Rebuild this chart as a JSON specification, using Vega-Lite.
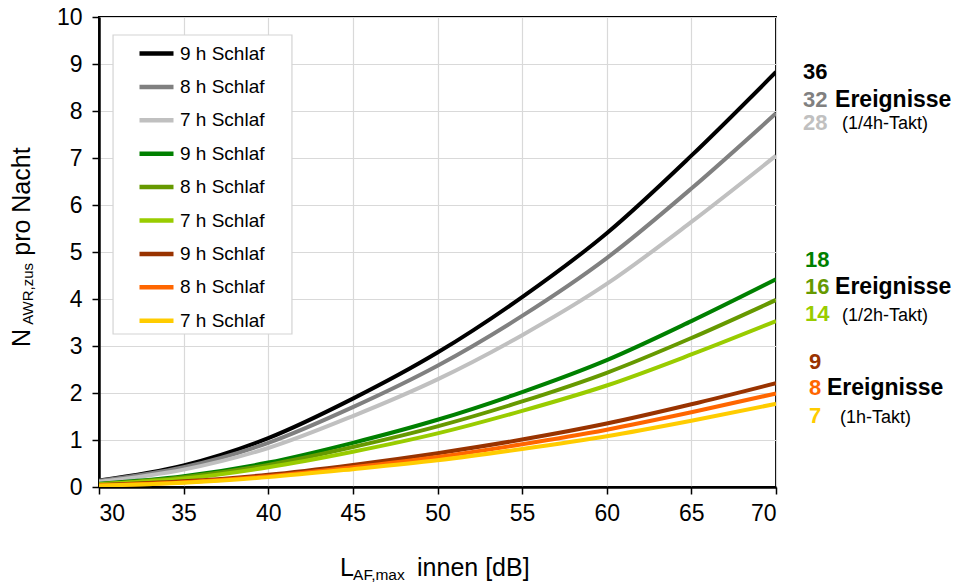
{
  "$schema": "https://vega.github.io/schema/vega-lite/v6.json",
  "width": 677,
  "height": 470,
  "autosize": "none",
  "padding": {"left": 99, "top": 17, "right": 178, "bottom": 99},
  "background": "white",
  "config": {
    "font": "Liberation Sans",
    "view": {"stroke": "black", "strokeWidth": 2},
    "axis": {
      "labelFont": "Liberation Sans",
      "labelFontSize": 23,
      "labelColor": "black",
      "domainColor": "black",
      "domainWidth": 2.5,
      "tickColor": "black",
      "tickWidth": 1.5,
      "tickSize": 7,
      "gridColor": "#d9d9d9",
      "gridWidth": 1.2,
      "title": null
    },
    "legend": {
      "orient": "none",
      "legendX": 14,
      "legendY": 17,
      "title": null,
      "symbolType": "stroke",
      "symbolSize": 1156,
      "symbolStrokeWidth": 4.5,
      "symbolOffset": 24,
      "labelFont": "Liberation Sans",
      "labelFontSize": 19,
      "labelColor": "black",
      "labelOffset": 4,
      "rowPadding": 3.4,
      "padding": 0
    }
  },
  "datasets": {
    "curves": [
      {"L": 30, "N": 0.14, "s": "9 h Schlaf|36"}, {"L": 35, "N": 0.46, "s": "9 h Schlaf|36"}, {"L": 40, "N": 1.04, "s": "9 h Schlaf|36"}, {"L": 45, "N": 1.88, "s": "9 h Schlaf|36"}, {"L": 50, "N": 2.86, "s": "9 h Schlaf|36"}, {"L": 55, "N": 4.04, "s": "9 h Schlaf|36"}, {"L": 60, "N": 5.40, "s": "9 h Schlaf|36"}, {"L": 65, "N": 7.05, "s": "9 h Schlaf|36"}, {"L": 70, "N": 8.83, "s": "9 h Schlaf|36"},
      {"L": 30, "N": 0.13, "s": "8 h Schlaf|32"}, {"L": 35, "N": 0.42, "s": "8 h Schlaf|32"}, {"L": 40, "N": 0.94, "s": "8 h Schlaf|32"}, {"L": 45, "N": 1.70, "s": "8 h Schlaf|32"}, {"L": 50, "N": 2.58, "s": "8 h Schlaf|32"}, {"L": 55, "N": 3.64, "s": "8 h Schlaf|32"}, {"L": 60, "N": 4.87, "s": "8 h Schlaf|32"}, {"L": 65, "N": 6.35, "s": "8 h Schlaf|32"}, {"L": 70, "N": 7.95, "s": "8 h Schlaf|32"},
      {"L": 30, "N": 0.11, "s": "7 h Schlaf|28"}, {"L": 35, "N": 0.37, "s": "7 h Schlaf|28"}, {"L": 40, "N": 0.83, "s": "7 h Schlaf|28"}, {"L": 45, "N": 1.51, "s": "7 h Schlaf|28"}, {"L": 50, "N": 2.29, "s": "7 h Schlaf|28"}, {"L": 55, "N": 3.23, "s": "7 h Schlaf|28"}, {"L": 60, "N": 4.32, "s": "7 h Schlaf|28"}, {"L": 65, "N": 5.64, "s": "7 h Schlaf|28"}, {"L": 70, "N": 7.05, "s": "7 h Schlaf|28"},
      {"L": 30, "N": 0.07, "s": "9 h Schlaf|18"}, {"L": 35, "N": 0.23, "s": "9 h Schlaf|18"}, {"L": 40, "N": 0.52, "s": "9 h Schlaf|18"}, {"L": 45, "N": 0.94, "s": "9 h Schlaf|18"}, {"L": 50, "N": 1.43, "s": "9 h Schlaf|18"}, {"L": 55, "N": 2.02, "s": "9 h Schlaf|18"}, {"L": 60, "N": 2.70, "s": "9 h Schlaf|18"}, {"L": 65, "N": 3.53, "s": "9 h Schlaf|18"}, {"L": 70, "N": 4.42, "s": "9 h Schlaf|18"},
      {"L": 30, "N": 0.06, "s": "8 h Schlaf|16"}, {"L": 35, "N": 0.21, "s": "8 h Schlaf|16"}, {"L": 40, "N": 0.47, "s": "8 h Schlaf|16"}, {"L": 45, "N": 0.85, "s": "8 h Schlaf|16"}, {"L": 50, "N": 1.29, "s": "8 h Schlaf|16"}, {"L": 55, "N": 1.82, "s": "8 h Schlaf|16"}, {"L": 60, "N": 2.43, "s": "8 h Schlaf|16"}, {"L": 65, "N": 3.17, "s": "8 h Schlaf|16"}, {"L": 70, "N": 3.98, "s": "8 h Schlaf|16"},
      {"L": 30, "N": 0.06, "s": "7 h Schlaf|14"}, {"L": 35, "N": 0.18, "s": "7 h Schlaf|14"}, {"L": 40, "N": 0.42, "s": "7 h Schlaf|14"}, {"L": 45, "N": 0.75, "s": "7 h Schlaf|14"}, {"L": 50, "N": 1.14, "s": "7 h Schlaf|14"}, {"L": 55, "N": 1.62, "s": "7 h Schlaf|14"}, {"L": 60, "N": 2.16, "s": "7 h Schlaf|14"}, {"L": 65, "N": 2.82, "s": "7 h Schlaf|14"}, {"L": 70, "N": 3.53, "s": "7 h Schlaf|14"},
      {"L": 30, "N": 0.04, "s": "9 h Schlaf|9"}, {"L": 35, "N": 0.12, "s": "9 h Schlaf|9"}, {"L": 40, "N": 0.26, "s": "9 h Schlaf|9"}, {"L": 45, "N": 0.47, "s": "9 h Schlaf|9"}, {"L": 50, "N": 0.72, "s": "9 h Schlaf|9"}, {"L": 55, "N": 1.01, "s": "9 h Schlaf|9"}, {"L": 60, "N": 1.35, "s": "9 h Schlaf|9"}, {"L": 65, "N": 1.76, "s": "9 h Schlaf|9"}, {"L": 70, "N": 2.21, "s": "9 h Schlaf|9"},
      {"L": 30, "N": 0.03, "s": "8 h Schlaf|8"}, {"L": 35, "N": 0.10, "s": "8 h Schlaf|8"}, {"L": 40, "N": 0.23, "s": "8 h Schlaf|8"}, {"L": 45, "N": 0.42, "s": "8 h Schlaf|8"}, {"L": 50, "N": 0.64, "s": "8 h Schlaf|8"}, {"L": 55, "N": 0.91, "s": "8 h Schlaf|8"}, {"L": 60, "N": 1.22, "s": "8 h Schlaf|8"}, {"L": 65, "N": 1.59, "s": "8 h Schlaf|8"}, {"L": 70, "N": 1.99, "s": "8 h Schlaf|8"},
      {"L": 30, "N": 0.03, "s": "7 h Schlaf|7"}, {"L": 35, "N": 0.09, "s": "7 h Schlaf|7"}, {"L": 40, "N": 0.21, "s": "7 h Schlaf|7"}, {"L": 45, "N": 0.38, "s": "7 h Schlaf|7"}, {"L": 50, "N": 0.57, "s": "7 h Schlaf|7"}, {"L": 55, "N": 0.81, "s": "7 h Schlaf|7"}, {"L": 60, "N": 1.08, "s": "7 h Schlaf|7"}, {"L": 65, "N": 1.41, "s": "7 h Schlaf|7"}, {"L": 70, "N": 1.77, "s": "7 h Schlaf|7"}
    ],
    "numbers": [
      {"x": 71.6, "y": 8.83, "t": "36", "s": "9 h Schlaf|36"},
      {"x": 71.6, "y": 8.23, "t": "32", "s": "8 h Schlaf|32"},
      {"x": 71.6, "y": 7.74, "t": "28", "s": "7 h Schlaf|28"},
      {"x": 71.71, "y": 4.83, "t": "18", "s": "9 h Schlaf|18"},
      {"x": 71.71, "y": 4.26, "t": "16", "s": "8 h Schlaf|16"},
      {"x": 71.71, "y": 3.68, "t": "14", "s": "7 h Schlaf|14"},
      {"x": 71.95, "y": 2.66, "t": "9", "s": "9 h Schlaf|9"},
      {"x": 71.95, "y": 2.11, "t": "8", "s": "8 h Schlaf|8"},
      {"x": 71.95, "y": 1.51, "t": "7", "s": "7 h Schlaf|7"}
    ],
    "ereignisse": [
      {"x": 73.49, "y": 8.23, "t": "Ereignisse"},
      {"x": 73.49, "y": 4.26, "t": "Ereignisse"},
      {"x": 73.01, "y": 2.11, "t": "Ereignisse"}
    ],
    "takt": [
      {"x": 73.9, "y": 7.72, "t": "(1/4h-Takt)"},
      {"x": 73.9, "y": 3.64, "t": "(1/2h-Takt)"},
      {"x": 73.78, "y": 1.47, "t": "(1h-Takt)"}
    ],
    "titleMain": [
      {"x": 44.24, "y": -1.894, "t": "L"},
      {"x": 48.79, "y": -1.894, "t": "innen [dB]"}
    ],
    "titleSub": [
      {"x": 45.01, "y": -1.98, "t": "AF,max"}
    ],
    "ytitleMain": [
      {"x": 25.92, "y": 2.98, "t": "N"},
      {"x": 25.92, "y": 4.92, "t": "pro Nacht"}
    ],
    "ytitleSub": [
      {"x": 26.1, "y": 3.45, "t": "AWR,zus"}
    ]
  },
  "layer": [
    {
      "data": {"values": [{}]},
      "mark": {"type": "rect", "fill": "white", "stroke": "#d4d4d4", "strokeWidth": 1.2},
      "encoding": {
        "x": {"datum": 30.83, "type": "quantitative", "scale": {"domain": [30, 70], "nice": false}},
        "x2": {"datum": 41.4},
        "y": {"datum": 9.617, "type": "quantitative", "scale": {"domain": [0, 10], "nice": false}},
        "y2": {"datum": 3.255}
      }
    },
    {
      "data": {"name": "curves"},
      "mark": {"type": "line", "strokeWidth": 4, "interpolate": "monotone", "clip": true},
      "encoding": {
        "x": {"field": "L", "type": "quantitative", "scale": {"domain": [30, 70], "nice": false},
              "axis": {"values": [30, 35, 40, 45, 50, 55, 60, 65, 70], "labelPadding": 8, "grid": true}},
        "y": {"field": "N", "type": "quantitative", "scale": {"domain": [0, 10], "nice": false},
              "axis": {"values": [0, 1, 2, 3, 4, 5, 6, 7, 8, 9, 10], "labelPadding": 10, "grid": true}},
        "color": {"field": "s", "type": "nominal",
          "scale": {
            "domain": ["9 h Schlaf|36", "8 h Schlaf|32", "7 h Schlaf|28", "9 h Schlaf|18", "8 h Schlaf|16", "7 h Schlaf|14", "9 h Schlaf|9", "8 h Schlaf|8", "7 h Schlaf|7"],
            "range": ["#000000", "#808080", "#c0c0c0", "#008000", "#669900", "#99cc00", "#993300", "#ff6600", "#ffcc00"]
          },
          "legend": {"labelExpr": "split(datum.label, '|')[0]"}
        },
        "order": {"field": "s", "type": "nominal"}
      }
    },
    {
      "data": {"name": "numbers"},
      "mark": {"type": "text", "align": "left", "baseline": "middle", "fontSize": 22, "fontWeight": "bold", "font": "Liberation Sans"},
      "encoding": {
        "x": {"field": "x", "type": "quantitative", "scale": {"domain": [30, 70], "nice": false}},
        "y": {"field": "y", "type": "quantitative", "scale": {"domain": [0, 10], "nice": false}},
        "text": {"field": "t"},
        "color": {"field": "s", "type": "nominal", "legend": null}
      }
    },
    {
      "data": {"name": "ereignisse"},
      "mark": {"type": "text", "align": "left", "baseline": "middle", "fontSize": 23, "fontWeight": "bold", "font": "Liberation Sans", "color": "black"},
      "encoding": {
        "x": {"field": "x", "type": "quantitative", "scale": {"domain": [30, 70], "nice": false}},
        "y": {"field": "y", "type": "quantitative", "scale": {"domain": [0, 10], "nice": false}},
        "text": {"field": "t"}
      }
    },
    {
      "data": {"name": "takt"},
      "mark": {"type": "text", "align": "left", "baseline": "middle", "fontSize": 18, "font": "Liberation Sans", "color": "black"},
      "encoding": {
        "x": {"field": "x", "type": "quantitative", "scale": {"domain": [30, 70], "nice": false}},
        "y": {"field": "y", "type": "quantitative", "scale": {"domain": [0, 10], "nice": false}},
        "text": {"field": "t"}
      }
    },
    {
      "data": {"name": "titleMain"},
      "mark": {"type": "text", "align": "left", "baseline": "alphabetic", "fontSize": 25, "font": "Liberation Sans", "color": "black"},
      "encoding": {
        "x": {"field": "x", "type": "quantitative", "scale": {"domain": [30, 70], "nice": false}},
        "y": {"field": "y", "type": "quantitative", "scale": {"domain": [0, 10], "nice": false}},
        "text": {"field": "t"}
      }
    },
    {
      "data": {"name": "titleSub"},
      "mark": {"type": "text", "align": "left", "baseline": "alphabetic", "fontSize": 15.5, "font": "Liberation Sans", "color": "black"},
      "encoding": {
        "x": {"field": "x", "type": "quantitative", "scale": {"domain": [30, 70], "nice": false}},
        "y": {"field": "y", "type": "quantitative", "scale": {"domain": [0, 10], "nice": false}},
        "text": {"field": "t"}
      }
    },
    {
      "data": {"name": "ytitleMain"},
      "mark": {"type": "text", "align": "left", "baseline": "alphabetic", "angle": 270, "fontSize": 25, "font": "Liberation Sans", "color": "black"},
      "encoding": {
        "x": {"field": "x", "type": "quantitative", "scale": {"domain": [30, 70], "nice": false}},
        "y": {"field": "y", "type": "quantitative", "scale": {"domain": [0, 10], "nice": false}},
        "text": {"field": "t"}
      }
    },
    {
      "data": {"name": "ytitleSub"},
      "mark": {"type": "text", "align": "left", "baseline": "alphabetic", "angle": 270, "fontSize": 15, "font": "Liberation Sans", "color": "black"},
      "encoding": {
        "x": {"field": "x", "type": "quantitative", "scale": {"domain": [30, 70], "nice": false}},
        "y": {"field": "y", "type": "quantitative", "scale": {"domain": [0, 10], "nice": false}},
        "text": {"field": "t"}
      }
    }
  ]
}
